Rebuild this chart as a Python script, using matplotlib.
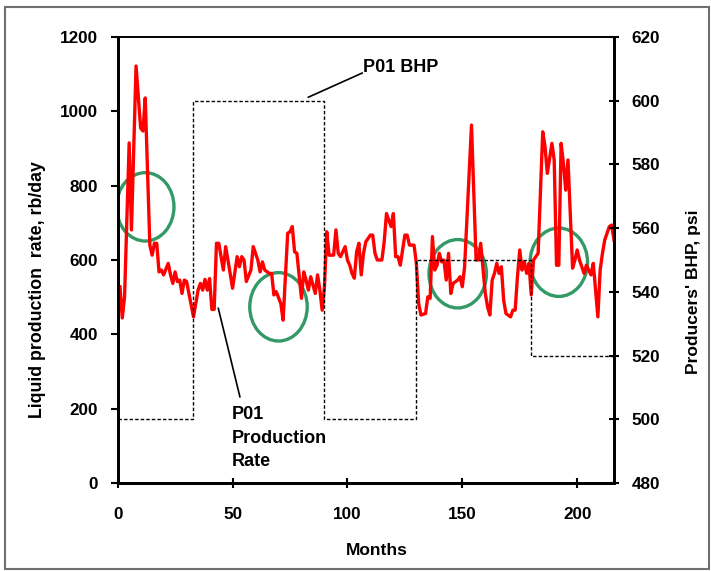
import numpy as np
import matplotlib
matplotlib.use("Agg")
import matplotlib.pyplot as plt
from matplotlib.patches import Ellipse, Rectangle

plt.rcParams['font.family'] = ['Liberation Sans', 'DejaVu Sans']
plt.rcParams['font.weight'] = 'bold'

# P01 liquid production rate (rb/day)
months = [1, 2, 3, 5, 6, 8, 10, 11, 12, 14, 15, 16, 17, 18, 19, 20, 22, 23, 24,
          25, 26, 27, 28, 29, 30, 31, 33, 35, 36, 37, 38, 39, 40, 41, 42, 43, 44, 46, 47,
          48, 50, 52, 53, 54, 55, 56, 58, 59, 61, 62, 63, 64, 66, 67, 68, 69, 71, 72, 74,
          75, 76, 77, 78, 80, 81, 82, 83, 84, 86, 87, 88, 89, 90, 91, 92, 94, 95, 96, 97,
          99, 100, 101, 102, 103, 104, 105, 106, 107, 108, 110, 111, 112, 113, 115, 116, 117, 119, 120, 121,
          122, 123, 125, 126, 127, 129, 130, 131, 132, 134, 135, 136, 137, 138, 139, 140, 141, 142, 143, 144,
          145, 146, 148, 149, 150, 151, 154, 156, 157, 158, 160, 161, 162, 163, 164, 165, 166, 167, 168, 169,
          171, 172, 173, 174, 175, 176, 177, 178, 179, 180, 181, 182, 183, 185, 186, 187, 189, 190, 191, 192,
          193, 194, 195, 196, 197, 198, 199, 200, 201, 203, 204, 205, 206, 207, 209, 210, 211, 212, 214, 215,
          216]
rate = [528, 444, 501, 915, 681, 1122, 955, 947, 1036, 640, 613, 645, 645, 568, 573, 560, 591, 560, 537,
        568, 542, 546, 510, 546, 542, 510, 447, 519, 537, 519, 548, 519, 550, 467, 467, 645, 645, 573, 636,
        600, 524, 609, 582, 609, 600, 542, 573, 636, 600, 568, 595, 573, 564, 564, 506, 515, 483, 438, 672,
        676, 690, 622, 618, 497, 568, 546, 519, 555, 510, 560, 519, 465, 528, 676, 613, 613, 681, 618, 609,
        636, 600, 586, 564, 551, 622, 645, 560, 618, 649, 667, 667, 618, 600, 600, 649, 725, 690, 725, 609,
        609, 586, 667, 667, 640, 640, 591, 483, 452, 456, 501, 497, 663, 573, 586, 618, 595, 600, 546, 618,
        510, 537, 546, 555, 528, 582, 963, 600, 600, 645, 510, 474, 452, 546, 564, 591, 564, 582, 492, 456,
        447, 465, 465, 555, 627, 573, 595, 564, 591, 506, 600, 609, 618, 945, 905, 833, 914, 869, 586, 586,
        914, 860, 788, 869, 725, 578, 600, 627, 600, 564, 586, 573, 560, 591, 447, 573, 618, 654, 690, 694,
        654]

# P01 bottom-hole pressure schedule (psi)
bhp_edges = [0, 33, 90, 130, 180, 216]
bhp_values = [500, 600, 500, 550, 520]

# highlighted regions (month, rate)
circle_months = [12, 70, 148, 192]
circle_rates = [743, 474, 563, 594]

fig = plt.figure(figsize=(7.11, 5.71), dpi=100)
fig.patches.append(Rectangle((0.007, 0.004), 0.99, 0.984, transform=fig.transFigure,
                             fill=False, edgecolor='#707070', linewidth=1.5))

ax = fig.add_axes([0.1655, 0.1541, 0.698, 0.7811])
ax2 = ax.twinx()

ax.plot(months, rate, color='red', linewidth=2.4, zorder=3)
for cm, cr in zip(circle_months, circle_rates):
    ax.add_patch(Ellipse((cm, cr), 25, 184, fill=False, edgecolor='#339966',
                         linewidth=2.4, zorder=2))

ax2.stairs(bhp_values, bhp_edges, baseline=None, color='black',
           linewidth=1.0, linestyle=(0, (2.5, 1.5)))

ax.set_xlim(0, 216)
ax.set_ylim(0, 1200)
ax2.set_ylim(480, 620)
ax.set_xticks([0, 50, 100, 150, 200])
ax.set_yticks(np.arange(0, 1201, 200))
ax2.set_yticks(np.arange(480, 621, 20))

ax.tick_params(axis='y', direction='out', length=5, width=1.5, labelsize=12.3, pad=9)
ax.tick_params(axis='x', direction='inout', length=7, width=1.5, labelsize=12.3, pad=14)
ax2.tick_params(axis='y', direction='inout', length=7, width=1.5, labelsize=12.3, pad=9)

for a in (ax, ax2):
    for side in ('left', 'right', 'bottom'):
        a.spines[side].set_linewidth(2)
    a.spines['top'].set_linewidth(1.2)

ax.set_xlabel('Months', fontsize=12.5, fontweight='bold')
ax.set_ylabel('Liquid production  rate, rb/day', fontsize=12.8, fontweight='bold')
ax2.set_ylabel("Producers' BHP, psi", fontsize=12.5, fontweight='bold')
ax.xaxis.set_label_coords(0.522, -0.135)
ax.yaxis.set_label_coords(-0.145, 0.433)
ax2.yaxis.set_label_coords(1.145, 0.428)

# labels with leader lines
ax.plot([83, 106.4], [1038, 1103], color='black', linewidth=1.2, zorder=4)
ax.text(106.8, 1118, 'P01 BHP', fontsize=13, fontweight='bold', ha='left', va='center')
ax.plot([43.8, 53.2], [470, 232], color='black', linewidth=1.2, zorder=4)
ax.text(49.6, 207, 'P01\nProduction\nRate', fontsize=13, fontweight='bold',
        ha='left', va='top', linespacing=1.5)

fig.savefig('out.png', dpi=100)
